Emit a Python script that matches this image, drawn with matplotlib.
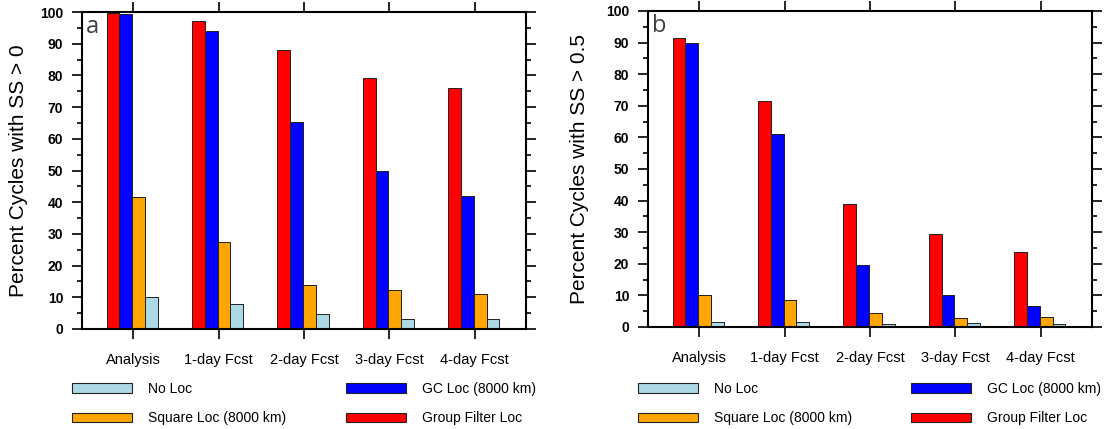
import matplotlib
matplotlib.use('Agg')
import matplotlib.pyplot as plt
import matplotlib.ticker as ticker
from matplotlib.patches import Patch
import numpy as np

# data
categories = ['Analysis', '1-day Fcst', '2-day Fcst', '3-day Fcst', '4-day Fcst']
series_names = ['Group Filter Loc', 'GC Loc (8000 km)', 'Square Loc (8000 km)', 'No Loc']
series_colors = ['#FF0000', '#0000FF', '#FFA500', '#ADD8E6']

# panel a: percent cycles with SS > 0
a_group = [99.7, 97.2, 87.9, 79.1, 75.9]
a_gc = [99.4, 93.9, 65.2, 50.0, 42.0]
a_square = [41.7, 27.6, 13.9, 12.3, 10.9]
a_noloc = [10.2, 7.9, 4.7, 3.2, 3.2]

# panel b: percent cycles with SS > 0.5
b_group = [91.3, 71.4, 38.9, 29.5, 23.7]
b_gc = [90.0, 61.1, 19.7, 10.2, 6.5]
b_square = [10.0, 8.4, 4.4, 2.8, 3.3]
b_noloc = [1.5, 1.7, 1.1, 1.3, 0.8]

plt.rcParams['font.family'] = ['Liberation Sans', 'DejaVu Sans']

W, H = 1111, 429
fig = plt.figure(figsize=(W / 100, H / 100), dpi=100)

def px_axes(left, right, top, bottom):
    return fig.add_axes([left / W, 1 - bottom / H, (right - left) / W, (bottom - top) / H])

def draw_panel(ax, values, ylabel, letter, ylab_x):
    x = np.arange(1, len(categories) + 1)
    w = 0.15
    offsets = [-1.5, -0.5, 0.5, 1.5]
    # soft gray shadow behind each bar
    for vals, off in zip(values, offsets):
        ax.bar(x + off * w, vals, width=w, color='#8c8c8c', edgecolor='none', zorder=1)
    for vals, off, col in zip(values, offsets, series_colors):
        ax.bar(x + off * w - 0.012, vals, width=w, color=col, edgecolor='#222222',
               linewidth=0.7, zorder=2)
    ax.set_xlim(0.4, 5.6)
    ax.set_ylim(0, 100)
    ax.set_xticks(x)
    ax.set_xticklabels(categories, fontsize=10.5)
    ax.yaxis.set_major_locator(ticker.MultipleLocator(10))
    ax.yaxis.set_minor_locator(ticker.MultipleLocator(5))
    ax.tick_params(axis='x', which='both', direction='out', top=True, bottom=True,
                   length=7, width=1.2, pad=10)
    ax.tick_params(axis='y', which='major', direction='out', left=True, right=True,
                   length=7.5, width=1.2, pad=6, labelsize=10)
    ax.tick_params(axis='y', which='minor', direction='out', left=True, right=True,
                   length=3.5, width=1.2)
    for lab in ax.get_yticklabels():
        lab.set_fontweight('bold')
    for sp in ax.spines.values():
        sp.set_linewidth(1.5)
    ax.set_ylabel(ylabel, fontsize=15)
    ax.yaxis.set_label_coords(ylab_x, 0.5)
    ax.text(0.008, 0.992, letter, transform=ax.transAxes, ha='left', va='top',
            fontsize=17, color='#404040', family=['Open Sans', 'DejaVu Sans'])

ax_a = px_axes(82, 526, 12, 329)
ax_b = px_axes(648, 1092, 11, 327)

draw_panel(ax_a, [a_group, a_gc, a_square, a_noloc], 'Percent Cycles with SS > 0', 'a', -0.121)
draw_panel(ax_b, [b_group, b_gc, b_square, b_noloc], 'Percent Cycles with SS > 0.5', 'b', -0.133)

# legend columns: (No Loc, Square Loc) and (GC Loc, Group Filter Loc)
legend_cols = [[3, 2], [1, 0]]
col_x = {'a': [72, 346], 'b': [638, 911]}

for panel in ('a', 'b'):
    for idxs, x0 in zip(legend_cols, col_x[panel]):
        handles = [Patch(facecolor=series_colors[i], edgecolor='#222222', linewidth=0.8)
                   for i in idxs]
        labels = [series_names[i] for i in idxs]
        fig.legend(handles, labels, loc='upper left', bbox_to_anchor=(x0 / W, 1 - 382 / H),
                   ncol=1, frameon=False, borderpad=0, borderaxespad=0,
                   handlelength=4.3, handleheight=0.7, handletextpad=1.15,
                   labelspacing=1.1, prop={'size': 10})

fig.savefig('out.png', dpi=100)
